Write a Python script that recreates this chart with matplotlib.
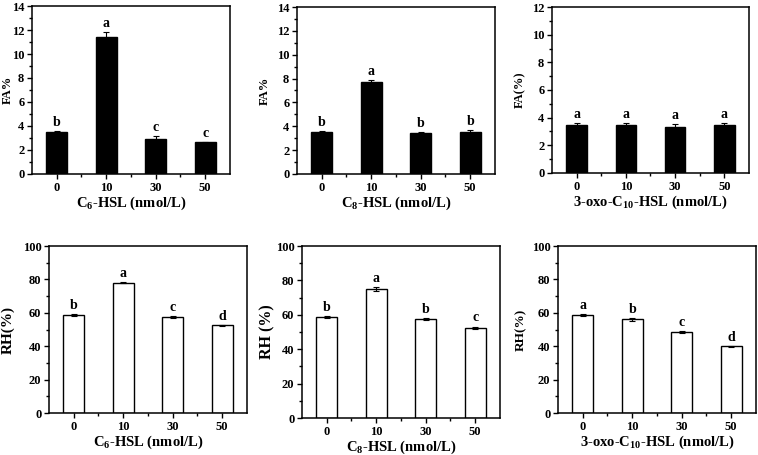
import matplotlib
matplotlib.use("Agg")
import matplotlib.pyplot as plt
from matplotlib.ticker import AutoMinorLocator, MultipleLocator, FixedLocator

plt.rcParams['font.family'] = ['Liberation Serif', 'DejaVu Serif']
plt.rcParams['font.weight'] = 'bold'
plt.rcParams['mathtext.fontset'] = 'custom'
plt.rcParams['mathtext.rm'] = 'Liberation Serif:bold'
plt.rcParams['mathtext.bf'] = 'Liberation Serif:bold'
plt.rcParams['mathtext.default'] = 'rm'

conc = ['0', '10', '30', '50']

# FA% panels
fa_c6 = [3.5, 11.45, 2.9, 2.65]
fa_c6_err = [0.1, 0.4, 0.3, 0.05]
fa_c6_let = ['b', 'a', 'c', 'c']

fa_c8 = [3.5, 7.7, 3.4, 3.5]
fa_c8_err = [0.1, 0.2, 0.15, 0.15]
fa_c8_let = ['b', 'a', 'b', 'b']

fa_c10 = [3.5, 3.5, 3.35, 3.5]
fa_c10_err = [0.1, 0.15, 0.2, 0.1]
fa_c10_let = ['a', 'a', 'a', 'a']

# RH% panels
rh_c6 = [58.5, 78.0, 57.5, 52.5]
rh_c6_err = [0.7, 0.4, 0.7, 0.4]
rh_c6_let = ['b', 'a', 'c', 'd']

rh_c8 = [58.5, 75.0, 57.5, 52.5]
rh_c8_err = [0.6, 1.0, 0.5, 0.7]
rh_c8_let = ['b', 'a', 'b', 'c']

rh_c10 = [58.5, 56.0, 48.5, 40.0]
rh_c10_err = [0.7, 0.8, 0.5, 0.3]
rh_c10_let = ['a', 'b', 'c', 'd']

xl_c6 = 'C$_6$-HSL (nmol/L)'
xl_c8 = 'C$_8$-HSL (nmol/L)'
xl_c10 = '3-oxo-C$_{10}$-HSL (nmol/L)'

fig = plt.figure(figsize=(7.58, 4.55), dpi=100)

panels = [
    # rect, values, errs, letters, color, ylim, ystep, ylabel, xlabel, ylabel size, ylabel x
    ([0.0422, 0.6176, 0.2612, 0.3692], fa_c6, fa_c6_err, fa_c6_let, 'black', 14, 2, 'FA%', xl_c6, 9, -0.121),
    ([0.3918, 0.6176, 0.2612, 0.3670], fa_c8, fa_c8_err, fa_c8_let, 'black', 14, 2, 'FA%', xl_c8, 9, -0.162),
    ([0.7282, 0.6198, 0.2599, 0.3648], fa_c10, fa_c10_err, fa_c10_let, 'black', 12, 2, 'FA(%)', xl_c10, 9, -0.162),
    ([0.0646, 0.0923, 0.2612, 0.3670], rh_c6, rh_c6_err, rh_c6_let, 'white', 100, 20, 'RH(%)', xl_c6, 11, -0.205),
    ([0.3984, 0.0813, 0.2612, 0.3780], rh_c8, rh_c8_err, rh_c8_let, 'white', 100, 20, 'RH (%)', xl_c8, 11.5, -0.177),
    ([0.7361, 0.0923, 0.2612, 0.3670], rh_c10, rh_c10_err, rh_c10_let, 'white', 100, 20, 'RH(%)', xl_c10, 9.5, -0.187),
]

for rect, vals, errs, lets, col, ymax, ystep, ylab, xlab, ysz, ylx in panels:
    ax = fig.add_axes(rect)
    x = range(len(vals))
    ax.bar(x, vals, width=0.42, color=col, edgecolor='black', linewidth=1.0,
           yerr=errs, capsize=2, error_kw=dict(ecolor='black', elinewidth=0.8, capthick=0.8))
    for i, (v, e, l) in enumerate(zip(vals, errs, lets)):
        ax.text(i, v + e + ymax * 0.012, l, ha='center', va='bottom', fontsize=10, fontweight='bold')
    ax.set_xlim(-0.5, 3.5)
    ax.set_ylim(0, ymax)
    ax.yaxis.set_major_locator(MultipleLocator(ystep))
    ax.yaxis.set_minor_locator(AutoMinorLocator(2))
    ax.set_xticks(list(x))
    ax.set_xticklabels(conc)
    ax.xaxis.set_minor_locator(FixedLocator([0.5, 1.5, 2.5]))
    ax.tick_params(axis='both', which='major', direction='out', length=3.5, width=1, labelsize=9, pad=2)
    ax.tick_params(axis='both', which='minor', direction='out', length=2, width=1)
    ax.tick_params(top=False, right=False, which='both')
    for s in ax.spines.values():
        s.set_linewidth(1.1)
    ax.set_xlabel(xlab, fontsize=10.5, fontweight='bold', labelpad=1)
    ax.set_ylabel(ylab, fontsize=ysz, fontweight='bold')
    ax.yaxis.set_label_coords(ylx, 0.5)
    ax.yaxis.label.set_verticalalignment('center')

plt.savefig('out.png', dpi=100)
